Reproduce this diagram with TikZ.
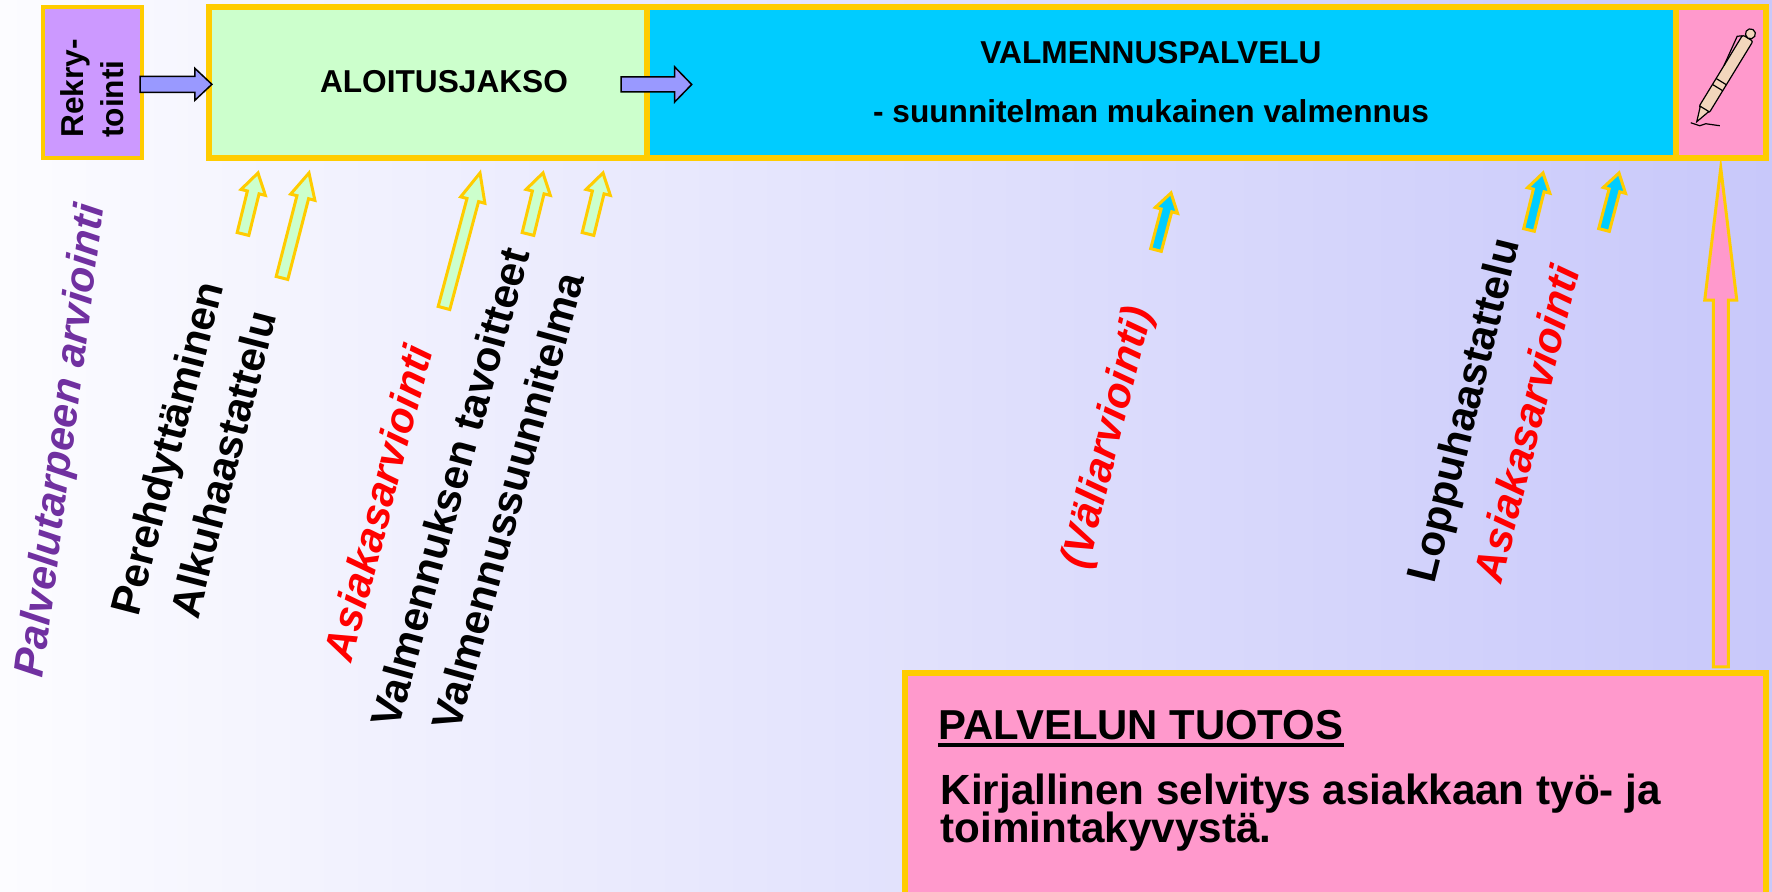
\documentclass[tikz,border=0pt]{standalone}
\usepackage{fontspec}
\setmainfont{Liberation Sans}
\usetikzlibrary{calc}

\definecolor{kulta}{HTML}{FFCC00}
\definecolor{violetti}{HTML}{CC99FF}
\definecolor{vihrea}{HTML}{CCFFCC}
\definecolor{sininen}{HTML}{00CCFF}
\definecolor{pinkki}{HTML}{FF99CC}
\definecolor{liila}{HTML}{9999FF}
\definecolor{purppura}{HTML}{7030A0}
\definecolor{kynanvari}{HTML}{F2D6BC}
\definecolor{taustav}{HTML}{FCFCFF}
\definecolor{taustao}{HTML}{C8C8FA}

\newcommand\nuoli[6]{%
  \coordinate (nuolikanta) at ($(#3)!#6!(#2)$);
  \draw[#1] ($(#2)!#4!90:(#3)$) -- ($(nuolikanta)!#4!-90:(#2)$) -- ($(nuolikanta)!#5!-90:(#2)$) -- (#3)
    -- ($(nuolikanta)!#5!90:(#2)$) -- ($(nuolikanta)!#4!90:(#2)$) -- ($(#2)!#4!-90:(#3)$) -- cycle;}

\begin{document}
\begin{tikzpicture}[x=0.01cm,y=0.01cm,
  laatikko/.style={draw=kulta,line width=0.06cm,inner sep=0pt},
  ylateksti/.style={inner sep=0pt,font=\fontsize{9}{11.4}\selectfont\bfseries},
  kalteva/.style={rotate=#1,anchor=base,inner sep=0pt,font=\fontsize{12}{14}\selectfont\bfseries},
  kalteva/.default=75.5,
  arvio/.style={kalteva=#1,text=red,font=\fontsize{12}{14}\selectfont\bfseries\itshape},
  arvio/.default=75.5,
  tuotosteksti/.style={anchor=base west,inner sep=0pt,font=\fontsize{12}{14}\selectfont\bfseries},
  runko/.style={fill=liila,draw=black,line width=0.015cm,line join=miter},
  vnuoli/.style={fill=vihrea,draw=kulta,line width=0.03cm,line join=miter},
  snuoli/.style={fill=sininen,draw=kulta,line width=0.03cm,line join=miter},
  pnuoli/.style={fill=pinkki,draw=kulta,line width=0.03cm,line join=miter}]
\useasboundingbox (0,0) rectangle (1772,892);
\shade[left color=taustav,right color=taustao] (0,0) rectangle (1772,892);

\node[laatikko,line width=0.04cm,fill=violetti,minimum width=0.99cm,minimum height=1.51cm] (rekry) at (92.5,809.5) {};
\node[ylateksti,rotate=90,align=left] (rekryteksti) at (92.5,803.5) {Rekry-\\tointi};
\node[laatikko,fill=vihrea,minimum width=4.38cm,minimum height=1.505cm] (aloitus) at (428,809.25) {};
\node[laatikko,fill=sininen,minimum width=10.29cm,minimum height=1.505cm] (valmennus) at (1161.5,809.25) {};
\node[laatikko,fill=pinkki,minimum width=0.895cm,minimum height=1.505cm] (kyna) at (1720.75,809.25) {};
\node[ylateksti,anchor=base] (aloitusteksti) at (444,799) {ALOITUSJAKSO};
\node[ylateksti,anchor=base] (valmennusotsikko) at (1151,828) {VALMENNUSPALVELU};
\node[ylateksti,anchor=base] (valmennusteksti) at (1151,769) {- suunnitelman mukainen valmennus};

\coordinate (rekryulos) at ($(rekry.east)+(-4,-1.8)$);
\coordinate (aloitusalku) at ($(aloitus.west)+(6,-1.6)$);
\nuoli{runko}{rekryulos}{aloitusalku}{0.08cm}{0.16cm}{0.17cm}
\coordinate (aloitusulos) at ($(aloitus.east)+(-29,-1.75)$);
\coordinate (valmennusalku) at ($(valmennus.west)+(48,-1.75)$);
\nuoli{runko}{aloitusulos}{valmennusalku}{0.075cm}{0.175cm}{0.17cm}

\begin{scope}[shift={($(kyna.center)+(-24,-39)$)},rotate=58.6,line width=0.012cm]
  \draw[fill=kynanvari,rounded corners=0.02cm] (14,-6) rectangle (98,6);
  \draw[fill=kynanvari] (0,0) -- (15,-5) -- (15,5) -- cycle;
  \draw (40,-6) -- (40,6) (47,-6) -- (47,6);
  \draw[fill=kynanvari] (103,0) circle (5);
  \draw (62,6) -- (94,10) -- (97,6);
\end{scope}
\draw[line width=0.012cm] (kyna.center) ++(-30,-40) -- ++(9,-3) -- ++(6,2) -- ++(14,-2);

\node[kalteva=82.6,text=purppura,font=\fontsize{12}{14}\selectfont\bfseries\itshape] (palvelutarve) at (73.5,450) {Palvelutarpeen arviointi};
\node[kalteva] (perehdytys) at (181,440) {Perehdyttäminen};
\node[kalteva] (alkuhaastattelu) at (237.5,424) {Alkuhaastattelu};
\node[arvio] (asiakasarvio1) at (392.5,385.5) {Asiakasarviointi};
\node[kalteva=74.5] (tavoitteet) at (464.5,400.5) {Valmennuksen tavoitteet};
\node[kalteva=74.5] (suunnitelma) at (522,387) {Valmennussuunnitelma};
\node[arvio=76] (valiarvio) at (1120,451) {(Väliarviointi)};
\node[kalteva=76] (loppuhaastattelu) at (1477.5,478.5) {Loppuhaastattelu};
\node[arvio=76] (asiakasarvio2) at (1541,465) {Asiakasarviointi};

\coordinate (v1a) at (243,658); \coordinate (v1b) at (258,719);
\coordinate (v2a) at (282,614); \coordinate (v2b) at (309,719);
\coordinate (v3a) at (444,584); \coordinate (v3b) at (480,719);
\coordinate (v4a) at (528,658); \coordinate (v4b) at (543,719);
\coordinate (v5a) at (588,658); \coordinate (v5b) at (603,719);
\nuoli{vnuoli}{v1a}{v1b}{0.06cm}{0.125cm}{0.2cm}
\nuoli{vnuoli}{v2a}{v2b}{0.06cm}{0.125cm}{0.25cm}
\nuoli{vnuoli}{v3a}{v3b}{0.06cm}{0.125cm}{0.28cm}
\nuoli{vnuoli}{v4a}{v4b}{0.06cm}{0.125cm}{0.2cm}
\nuoli{vnuoli}{v5a}{v5b}{0.06cm}{0.125cm}{0.2cm}
\coordinate (s1a) at (1156,642); \coordinate (s1b) at (1171,699);
\coordinate (s2a) at (1529,662); \coordinate (s2b) at (1543,719);
\coordinate (s3a) at (1604,662); \coordinate (s3b) at (1619,719);
\nuoli{snuoli}{s1a}{s1b}{0.055cm}{0.115cm}{0.18cm}
\nuoli{snuoli}{s2a}{s2b}{0.055cm}{0.115cm}{0.18cm}
\nuoli{snuoli}{s3a}{s3b}{0.055cm}{0.115cm}{0.18cm}

\node[laatikko,fill=pinkki,minimum width=8.61cm,minimum height=2.39cm] (tuotos) at (1335.5,99.5) {};
\coordinate (tuotosylos) at ($(kyna.south |- tuotos.north)+(0,3)$);
\coordinate (kynaalle) at ($(kyna.south)+(0,-7)$);
\nuoli{pnuoli}{tuotosylos}{kynaalle}{0.075cm}{0.16cm}{1.32cm}
\node[tuotosteksti,font=\fontsize{11.9}{14}\selectfont\bfseries] (tuotosotsikko) at (938,152) {PALVELUN TUOTOS};
\draw[line width=0.04cm] ($(tuotosotsikko.base west)+(0,-5)$) -- ($(tuotosotsikko.base east)+(0,-5)$);
\node[tuotosteksti] (selvitys1) at (940,87) {Kirjallinen selvitys asiakkaan työ- ja};
\node[tuotosteksti] (selvitys2) at (940,49) {toimintakyvystä.};
\end{tikzpicture}
\end{document}
